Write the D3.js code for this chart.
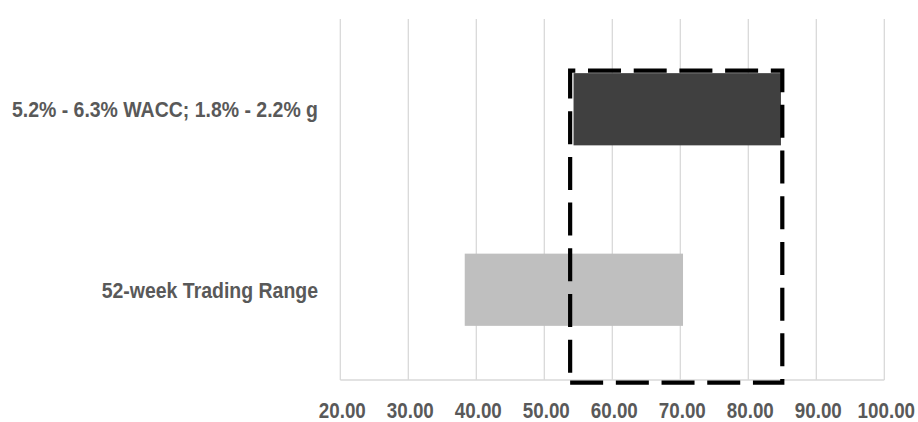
<!DOCTYPE html>
<html>
<head>
<meta charset="utf-8">
<script src="https://cdn.jsdelivr.net/npm/d3@7"></script>
<style>
  html, body { margin: 0; padding: 0; background: #fff; }
  svg text { font-family: "Liberation Sans Narrow", "Arial Narrow", "Liberation Sans", Arial, sans-serif; font-weight: bold; fill: #595959; }
</style>
</head>
<body>
<svg id="chart" width="918" height="422"></svg>
<script>
// Valuation ranges (share price), one floating bar per method
const categories = ["5.2% - 6.3% WACC; 1.8% - 2.2% g", "52-week Trading Range"];
const lowValues = [54.3, 38.3];
const highValues = [84.8, 70.4];
const barColors = ["#404040", "#bfbfbf"];
const tickValues = [20, 30, 40, 50, 60, 70, 80, 90, 100];
// Highlighted DCF range drawn as a dashed box
const highlightRange = [53.8, 85.0];

const svg = d3.select("#chart");
const plot = { left: 340.3, right: 884.3, top: 19, bottom: 380 };

const x = d3.scaleLinear().domain([20, 100]).range([plot.left, plot.right]);
const y = d3.scaleBand().domain(categories).range([plot.top, plot.bottom])
  .paddingInner(0.6).paddingOuter(0.3);

// condensed lettering: squeeze glyphs horizontally around an anchor point
function condense(sel, k) {
  sel.each(function () {
    const t = d3.select(this);
    const ax = +t.attr("x") || 0, ay = +t.attr("y") || 0;
    const base = t.attr("transform") || "";
    t.attr("x", 0).attr("y", 0)
     .attr("transform", `${base} translate(${ax},${ay}) scale(${k},1)`);
  });
}

// vertical gridlines
svg.append("g").selectAll("line").data(tickValues).join("line")
  .attr("x1", d => x(d)).attr("x2", d => x(d))
  .attr("y1", plot.top).attr("y2", plot.bottom)
  .attr("stroke", "#d9d9d9").attr("stroke-width", 1.3);

// baseline
svg.append("line")
  .attr("x1", plot.left).attr("x2", plot.right)
  .attr("y1", plot.bottom).attr("y2", plot.bottom)
  .attr("stroke", "#d9d9d9").attr("stroke-width", 1.3);

// floating range bars
svg.append("g").selectAll("rect").data(categories).join("rect")
  .attr("x", (d, i) => x(lowValues[i]))
  .attr("width", (d, i) => x(highValues[i]) - x(lowValues[i]))
  .attr("y", d => y(d))
  .attr("height", y.bandwidth())
  .attr("fill", (d, i) => barColors[i]);

// x axis tick labels
const xAxis = d3.axisBottom(x).tickValues(tickValues).tickFormat(d3.format(".2f")).tickSize(0).tickPadding(0);
const gx = svg.append("g").attr("transform", `translate(0,${plot.bottom})`).call(xAxis);
gx.select(".domain").remove();
gx.attr("font-family", null).attr("font-size", null);
gx.selectAll("text").attr("font-size", 22).attr("x", 1.5).attr("y", 38).attr("dy", null)
  .attr("fill", "#595959");
gx.selectAll("text").call(condense, 0.855);

// category labels
svg.append("g").selectAll("text").data(categories).join("text")
  .attr("x", 318)
  .attr("y", d => y(d) + y.bandwidth() / 2)
  .attr("dy", "0.36em")
  .attr("text-anchor", "end")
  .attr("font-size", 22)
  .text(d => d)
  .call(condense, 0.885);

// dashed highlight box, traced from bottom-left going right then up
const bx0 = x(highlightRange[0]), bx1 = x(highlightRange[1]);
const by0 = y(categories[0]) - 2.5, by1 = plot.bottom + 2.7;
const p = d3.path();
p.moveTo(bx0, by1);
p.lineTo(bx1, by1);
p.lineTo(bx1, by0);
p.lineTo(bx0, by0);
p.closePath();
svg.append("path")
  .attr("d", p.toString())
  .attr("fill", "none")
  .attr("stroke", "#000")
  .attr("stroke-width", 4.2)
  .attr("stroke-dasharray", "33 12.7")
  .attr("stroke-linejoin", "miter");
</script>
</body>
</html>
